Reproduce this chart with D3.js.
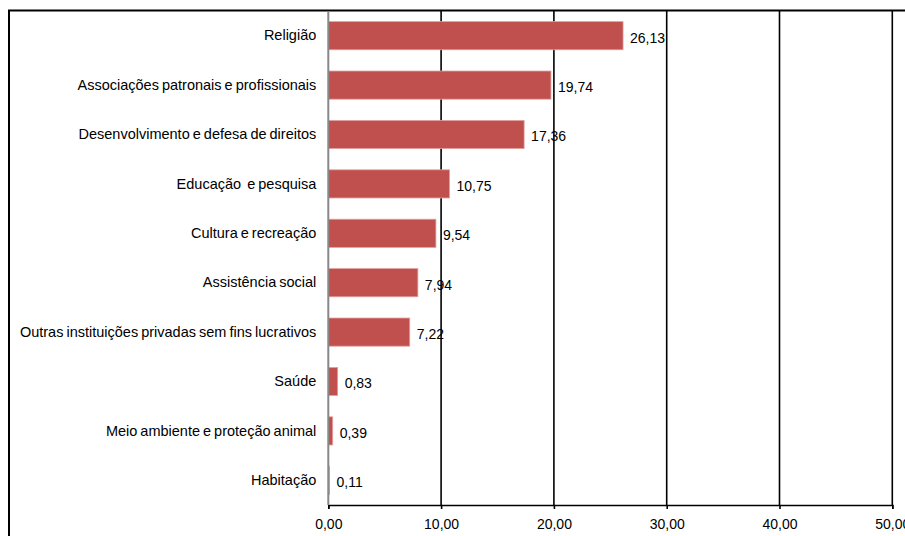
<!DOCTYPE html>
<html>
<head>
<meta charset="utf-8">
<script src="https://cdn.jsdelivr.net/npm/d3@7/dist/d3.min.js"></script>
<style>
  html, body { margin: 0; padding: 0; background: #fff; }
  svg { display: block; }
  text { font-family: "Liberation Sans", Arial, sans-serif; fill: #000; }
</style>
</head>
<body>
<svg id="chart" width="905" height="536"></svg>
<script>
const categories = [
  "Religião",
  "Associações patronais e profissionais",
  "Desenvolvimento e defesa de direitos",
  "Educação  e pesquisa",
  "Cultura e recreação",
  "Assistência social",
  "Outras instituições privadas sem fins lucrativos",
  "Saúde",
  "Meio ambiente e proteção animal",
  "Habitação"
];
const values = [26.13, 19.74, 17.36, 10.75, 9.54, 7.94, 7.22, 0.83, 0.39, 0.11];
const tickValues = [0, 10, 20, 30, 40, 50];

const svg = d3.select("#chart");
const fmt = v => d3.format(".2f")(v).replace(".", ",");

const plot = { left: 328.3, right: 892.3, top: 11, bottom: 505 };

const x = d3.scaleLinear().domain([0, 50]).range([plot.left, plot.right]);
const y = d3.scaleBand()
  .domain(categories)
  .range([plot.top, plot.bottom])
  .paddingInner(0.43)
  .paddingOuter(0.215);

// outer frame (extends past the right and bottom edges)
svg.append("rect")
  .attr("x", 9).attr("y", 10.5)
  .attr("width", 1200).attr("height", 1200)
  .attr("fill", "none")
  .attr("stroke", "#000")
  .attr("stroke-width", 2);

// vertical gridlines
svg.append("g")
  .selectAll("line")
  .data(tickValues.filter(d => d > 0))
  .join("line")
  .attr("x1", d => x(d)).attr("x2", d => x(d))
  .attr("y1", plot.top).attr("y2", plot.bottom)
  .attr("stroke", "#000")
  .attr("stroke-width", 1.6);

// bars
svg.append("g")
  .selectAll("rect")
  .data(values)
  .join("rect")
  .attr("x", x(0))
  .attr("y", (d, i) => y(categories[i]))
  .attr("width", d => x(d) - x(0))
  .attr("height", y.bandwidth())
  .attr("fill", "#C0504D")
  .attr("stroke", "#E3A09E")
  .attr("stroke-width", 0.8);

// value labels
svg.append("g")
  .selectAll("text")
  .data(values)
  .join("text")
  .attr("x", d => x(d) + 7)
  .attr("y", (d, i) => y(categories[i]) + y.bandwidth() / 2 + 2)
  .attr("dy", "0.35em")
  .attr("font-size", 14)
  .text(d => fmt(d));

// x axis
const xAxis = svg.append("g")
  .attr("transform", `translate(0,${plot.bottom})`)
  .call(d3.axisBottom(x).tickValues(tickValues).tickSize(4).tickFormat(fmt));
xAxis.select(".domain").attr("stroke", "#000").attr("stroke-width", 1.6);
xAxis.selectAll(".tick line").attr("stroke", "#000").attr("stroke-width", 1.6);
xAxis.selectAll(".tick text")
  .attr("font-family", "Liberation Sans, Arial, sans-serif")
  .attr("font-size", 14)
  .attr("fill", "#000")
  .attr("y", 14);

// y axis
const yAxis = svg.append("g")
  .attr("transform", `translate(${plot.left},0)`)
  .call(d3.axisLeft(y).tickSize(0).tickPadding(12));
yAxis.select(".domain")
  .attr("stroke", "#888")
  .attr("stroke-width", 2)
  .attr("d", `M0,${plot.top}V${plot.bottom}`);
yAxis.selectAll(".tick text")
  .attr("font-family", "Liberation Sans, Arial, sans-serif")
  .attr("font-size", 14.5)
  .attr("word-spacing", "-1px")
  .attr("fill", "#000")
  .style("white-space", "pre")
  .attr("xml:space", "preserve");
</script>
</body>
</html>
